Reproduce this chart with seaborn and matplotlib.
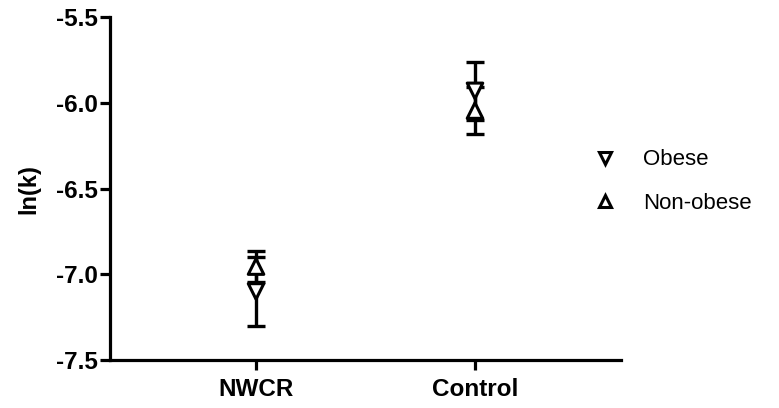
import numpy as np
import pandas as pd
import seaborn as sns
import matplotlib.pyplot as plt
from matplotlib.lines import Line2D

# data: mean ln(k) and SD for each group
groups = ["NWCR", "Control"]
status = ["Obese", "Non-obese"]
obese_mean = [-7.10, -5.93]
obese_sd = [0.20, 0.17]
nonobese_mean = [-6.955, -6.045]
nonobese_sd = [0.09, 0.135]

yticks = [-7.5, -7.0, -6.5, -6.0, -5.5]

df = pd.DataFrame({
    "group": groups * 2,
    "status": [status[0]] * 2 + [status[1]] * 2,
    "mean": obese_mean + nonobese_mean,
    "sd": obese_sd + nonobese_sd,
})

sns.set_style("ticks", {"axes.edgecolor": "black", "text.color": "black",
                        "xtick.color": "black", "ytick.color": "black",
                        "axes.labelcolor": "black"})
plt.rcParams["font.family"] = ["Liberation Sans", "DejaVu Sans"]

fig = plt.figure(figsize=(7.79, 4.08), dpi=100)
ax = fig.add_axes([0.1412, 0.1176, 0.656, 0.8404])

xpos = {g: i for i, g in enumerate(groups)}
# error bars first, markers (white filled) on top
for s in status:
    sub = df[df["status"] == s]
    ax.errorbar(sub["group"].map(xpos), sub["mean"], yerr=sub["sd"],
                fmt="none", ecolor="black", elinewidth=2.4, capsize=6.5,
                capthick=2.4, zorder=2)

sns.scatterplot(data=df, x=df["group"].map(xpos), y="mean", style="status",
                markers={"Obese": "v", "Non-obese": "^"}, s=125,
                facecolor="white", edgecolor="black", linewidth=2.2,
                zorder=3, legend=False, ax=ax)

ax.set_xlim(-0.667, 1.667)
ax.set_ylim(-7.5, -5.5)
ax.set_yticks(yticks)
ax.set_yticklabels([f"{v:.1f}" for v in yticks])
ax.set_xticks(range(len(groups)))
ax.set_xticklabels(groups)
ax.set_xlabel("")
ax.set_ylabel("ln(k)", fontsize=17, fontweight="bold", labelpad=11)

for side in ["top", "right"]:
    ax.spines[side].set_visible(False)
for side in ["left", "bottom"]:
    ax.spines[side].set_linewidth(2.3)
ax.tick_params(axis="both", width=2.3, length=7, labelsize=17.5, pad=2)
ax.tick_params(axis="x", pad=6)
for lab in ax.get_xticklabels() + ax.get_yticklabels():
    lab.set_fontweight("bold")

handles = [
    Line2D([], [], linestyle="none", marker="v", markersize=8,
           markerfacecolor="white", markeredgecolor="black", markeredgewidth=2.2),
    Line2D([], [], linestyle="none", marker="^", markersize=8,
           markerfacecolor="white", markeredgecolor="black", markeredgewidth=2.2),
]
fig.legend(handles, status, loc="center left", bbox_to_anchor=(0.737, 0.555),
           frameon=False, fontsize=16, labelspacing=1.0, handletextpad=1.2,
           handlelength=1.0)

fig.savefig("out.png", dpi=100)
